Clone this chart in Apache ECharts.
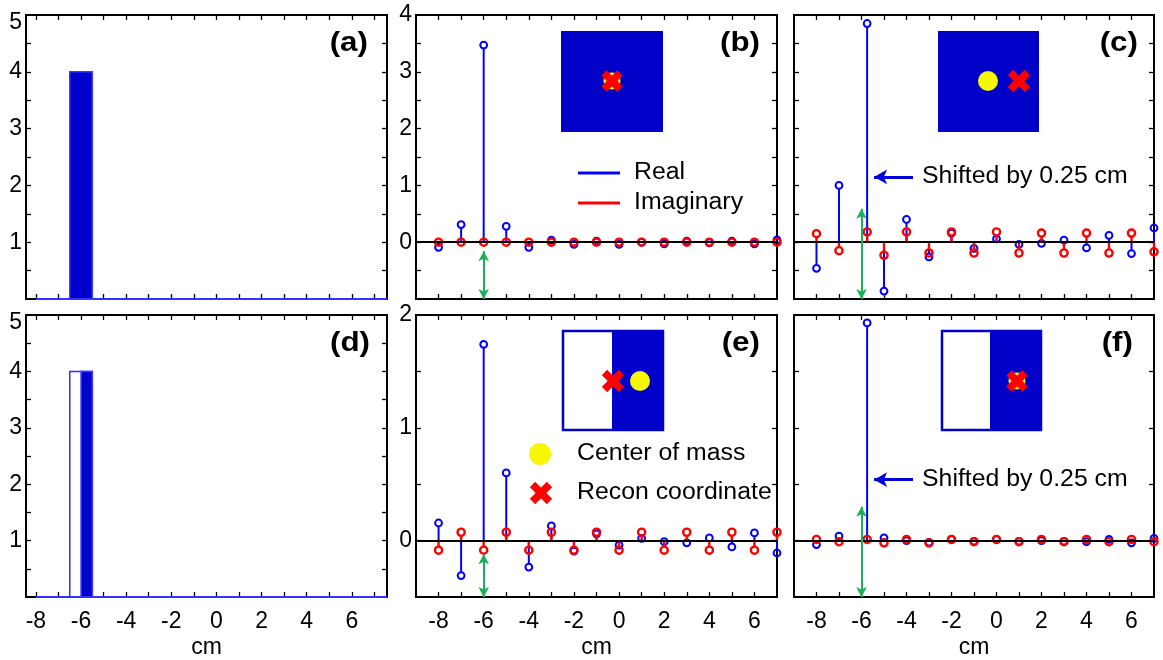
<!DOCTYPE html>
<html>
<head>
<meta charset="utf-8">
<script src="https://cdn.jsdelivr.net/npm/echarts@6/dist/echarts.min.js"></script>
<style>
  html, body { margin: 0; padding: 0; background: #fff; }
  #chart { width: 1163px; height: 660px; }
</style>
</head>
<body>
<div id="chart"></div>
<script>
// ---- data ----
// sample positions (cm)
const samplePos = [-8, -7, -6, -5, -4, -3, -2, -1, 0, 1, 2, 3, 4, 5, 6, 7];
// positions with the -6 sample shifted by 0.25 cm
const samplePosShifted = [-8, -7, -5.75, -5, -4, -3, -2, -1, 0, 1, 2, 3, 4, 5, 6, 7];

// (a) object profile: [start, end, height]
const objectA = [[-6.5, -5.5, 4]];
// (d) object profile: outline and filled part
const objectDOutline = [[-6.5, -5.5, 4]];
const objectDFilled = [[-6, -5.5, 4]];

// (b) centred object
const realB = [-0.09, 0.31, 3.47, 0.28, -0.09, 0.035, -0.04, 0.02, -0.04, 0.0, -0.03, 0.02, -0.01, 0.02, -0.03, 0.04];
const imagB = [0, 0, 0, 0, 0, 0, 0, 0, 0, 0, 0, 0, 0, 0, 0, 0];
// (c) shifted sampling
const realC = [-0.46, 1.0, 3.85, -0.86, 0.40, -0.26, 0.16, -0.11, 0.06, -0.04, -0.02, 0.035, -0.10, 0.12, -0.20, 0.25];
const imagC = [0.15, -0.15, 0.18, -0.23, 0.18, -0.19, 0.18, -0.19, 0.18, -0.19, 0.16, -0.19, 0.16, -0.19, 0.16, -0.17];
// (e) half-filled object
const realE = [0.156, -0.31, 1.74, 0.60, -0.235, 0.13, -0.094, 0.06, -0.04, 0.02, -0.01, -0.02, 0.024, -0.056, 0.068, -0.11];
const imagE = [-0.085, 0.074, -0.085, 0.074, -0.085, 0.074, -0.085, 0.074, -0.085, 0.074, -0.085, 0.074, -0.085, 0.074, -0.085, 0.074];
// (f) half-filled object, shifted sampling
const realF = [-0.035, 0.04, 1.93, 0.024, 0.0, -0.015, 0.01, -0.006, 0.01, -0.006, 0.0, -0.006, -0.01, 0.01, -0.02, 0.02];
const imagF = [0.01, -0.01, 0.01, -0.02, 0.01, -0.02, 0.01, -0.01, 0.01, -0.01, 0.01, -0.01, 0.01, -0.01, 0.01, -0.01];

// green double arrows at x = -6: [x, yTop, yBottom]
const arrowB = [-6, -0.16, -1];
const arrowC = [-6, 0.59, -1];
const arrowE = [-6, -0.12, -0.5];
const arrowF = [-6, 0.30, -0.5];
// "Shifted by" pointer: [xTip, xTail, y]
const pointerC = [-5.44, -3.71, 1.15];
const pointerF = [-5.44, -3.71, 0.54];

// tick values
const xTickVals = [-8, -7, -6, -5, -4, -3, -2, -1, 0, 1, 2, 3, 4, 5, 6];
const xTickValsBar = [-8, -7, -6, -5, -4, -3, -2, -1, 0, 1, 2, 3, 4, 5, 6, 7];
const xLabelVals = [-8, -6, -4, -2, 0, 2, 4, 6];
const yTicksBar = [0.5, 1, 1.5, 2, 2.5, 3, 3.5, 4, 4.5];
const yLabelsBar = [1, 2, 3, 4, 5];
const yTicksTop = [-0.5, 0, 0.5, 1, 1.5, 2, 2.5, 3, 3.5];
const yLabelsTop = [0, 1, 2, 3, 4];
const yTicksBottom = [0, 0.5, 1, 1.5];
const yLabelsBottom = [0, 1, 2];

// ---- styling ----
const FONT = "'Liberation Sans', Arial, Helvetica, sans-serif";
const BLUE = '#0000FF';
const DARKBLUE = '#0000C8';
const RED = '#FF0000';
const GREEN = '#1BAF57';
const YELLOW = '#F8F800';

const grids = [
  { left: 26, top: 15, width: 361, height: 284 },
  { left: 416, top: 15, width: 361, height: 284 },
  { left: 794, top: 15, width: 360, height: 284 },
  { left: 26, top: 315, width: 361, height: 283 },
  { left: 416, top: 315, width: 361, height: 283 },
  { left: 794, top: 315, width: 360, height: 283 }
].map(g => Object.assign({ show: true, borderColor: '#000', borderWidth: 2, backgroundColor: '#fff' }, g));

const tickStyle = { color: '#000', width: 1.3 };
const labelStyle = { fontSize: 23, color: '#000', fontFamily: FONT };

function xAxesFor(gi, min, max, ticks, showLabels) {
  const base = {
    type: 'value', gridIndex: gi, min: min, max: max,
    axisLine: { show: false, onZero: false }, splitLine: { show: false }
  };
  return [
    Object.assign({}, base, {
      position: 'bottom',
      axisTick: { show: true, inside: true, length: 5, customValues: ticks, lineStyle: tickStyle },
      axisLabel: Object.assign({ show: showLabels, customValues: xLabelVals, margin: 13 }, labelStyle),
      name: showLabels ? 'cm' : '',
      nameLocation: 'middle', nameGap: 39,
      nameTextStyle: labelStyle
    }),
    Object.assign({}, base, {
      position: 'top',
      axisTick: { show: true, inside: true, length: 5, customValues: ticks, lineStyle: tickStyle },
      axisLabel: { show: false }
    })
  ];
}

function yAxesFor(gi, min, max, ticks, labels, showLabels, raiseTop) {
  const base = {
    type: 'value', gridIndex: gi, min: min, max: max,
    axisLine: { show: false, onZero: false }, splitLine: { show: false }
  };
  return [
    Object.assign({}, base, {
      position: 'left',
      axisTick: { show: true, inside: true, length: 5, customValues: ticks, lineStyle: tickStyle },
      axisLabel: Object.assign({
        show: showLabels, customValues: labels, margin: 4,
        formatter: v => (raiseTop && v === max) ? '{t|' + v + '}' : String(v),
        rich: { t: { fontSize: 23, fontFamily: FONT, color: '#000', padding: [15, 0, 0, 0] } }
      }, labelStyle)
    }),
    Object.assign({}, base, {
      position: 'right',
      axisTick: { show: true, inside: true, length: 5, customValues: ticks, lineStyle: tickStyle },
      axisLabel: { show: false }
    })
  ];
}

const xAxis = [].concat(
  xAxesFor(0, -8.44, 7.56, xTickValsBar, false),
  xAxesFor(1, -9, 7, xTickVals, false),
  xAxesFor(2, -9, 7, xTickVals, false),
  xAxesFor(3, -8.44, 7.56, xTickValsBar, true),
  xAxesFor(4, -9, 7, xTickVals, true),
  xAxesFor(5, -9, 7, xTickVals, true)
);
const yAxis = [].concat(
  yAxesFor(0, 0, 5, yTicksBar, yLabelsBar, true, true),
  yAxesFor(1, -1, 4, yTicksTop, yLabelsTop, true, false),
  yAxesFor(2, -1, 4, yTicksTop, yLabelsTop, false, false),
  yAxesFor(3, 0, 5, yTicksBar, yLabelsBar, true, true),
  yAxesFor(4, -0.5, 2, yTicksBottom, yLabelsBottom, true, false),
  yAxesFor(5, -0.5, 2, yTicksBottom, yLabelsBottom, false, false)
);

// rectangular object profile drawn in data coordinates
function profileSeries(gi, data, fill, stroke) {
  return {
    type: 'custom', xAxisIndex: 2 * gi, yAxisIndex: 2 * gi, z: 3,
    data: data,
    renderItem: function (params, api) {
      const p0 = api.coord([api.value(0), api.value(2)]);
      const p1 = api.coord([api.value(1), 0]);
      return {
        type: 'rect',
        shape: { x: p0[0], y: p0[1], width: p1[0] - p0[0], height: p1[1] - p0[1] },
        style: { fill: fill, stroke: stroke, lineWidth: 1.5 }
      };
    }
  };
}

// stem plot: vertical line from zero with an open circle at the value
function stemSeries(gi, xs, ys, color, r, lw, z) {
  return {
    type: 'custom', xAxisIndex: 2 * gi, yAxisIndex: 2 * gi, z: z,
    data: xs.map((x, i) => [x, ys[i]]),
    renderItem: function (params, api) {
      const x = api.value(0), y = api.value(1);
      const p0 = api.coord([x, 0]);
      const p1 = api.coord([x, y]);
      const dy = p1[1] - p0[1];
      const children = [];
      if (Math.abs(dy) > r) {
        const endY = p1[1] - Math.sign(dy) * r;
        children.push({
          type: 'line',
          shape: { x1: p0[0], y1: p0[1], x2: p1[0], y2: endY },
          style: { stroke: color, lineWidth: lw }
        });
      }
      children.push({
        type: 'circle',
        shape: { cx: p1[0], cy: p1[1], r: r },
        style: { fill: 'none', stroke: color, lineWidth: lw }
      });
      return { type: 'group', children: children };
    }
  };
}

// zero line, green double arrow and optional pointer
function guideSeries(gi, arrow, pointer, baselineColor, baselineFrom) {
  const items = [];
  if (baselineFrom === undefined) {
    items.push({ yAxis: 0, lineStyle: { color: baselineColor, width: 2, type: 'solid' } });
  } else {
    items.push([
      { coord: [baselineFrom, 0], lineStyle: { color: baselineColor, width: 2, type: 'solid' } },
      { coord: [7.56, 0] }
    ]);
  }
  if (arrow) {
    items.push([
      { coord: [arrow[0], arrow[1]], symbol: 'arrow', symbolSize: [8, 10], lineStyle: { color: GREEN, width: 2, type: 'solid' } },
      { coord: [arrow[0], arrow[2]], symbol: 'arrow', symbolSize: [8, 10] }
    ]);
  }
  if (pointer) {
    items.push([
      { coord: [pointer[0], pointer[2]], symbol: 'arrow', symbolSize: [11, 13], lineStyle: { color: '#0000DD', width: 3, type: 'solid' } },
      { coord: [pointer[1], pointer[2]], symbol: 'none' }
    ]);
  }
  return {
    type: 'line', xAxisIndex: 2 * gi, yAxisIndex: 2 * gi, data: [], z: 1,
    markLine: { silent: true, animation: false, symbol: ['none', 'none'], label: { show: false }, data: items }
  };
}

const series = [
  // (a)
  guideSeries(0, null, null, '#3333FF', -8),
  profileSeries(0, objectA, '#0000CC', '#3B3BFF'),
  // (b)
  guideSeries(1, arrowB, null, '#000'),
  stemSeries(1, samplePos, realB, BLUE, 3.4, 2, 2),
  stemSeries(1, samplePos, imagB, RED, 3.6, 2.4, 3),
  // (c)
  guideSeries(2, arrowC, pointerC, '#000'),
  stemSeries(2, samplePosShifted, realC, BLUE, 3.4, 2, 2),
  stemSeries(2, samplePosShifted, imagC, RED, 3.6, 2.4, 3),
  // (d)
  guideSeries(3, null, null, '#3333FF', -8),
  profileSeries(3, objectDOutline, '#fff', '#2E2EFF'),
  profileSeries(3, objectDFilled, '#0000CC', '#3B3BFF'),
  // (e)
  guideSeries(4, arrowE, null, '#000'),
  stemSeries(4, samplePos, realE, BLUE, 3.4, 2, 2),
  stemSeries(4, samplePos, imagE, RED, 3.6, 2.4, 3),
  // (f)
  guideSeries(5, arrowF, pointerF, '#000'),
  stemSeries(5, samplePosShifted, realF, BLUE, 3.4, 2, 2),
  stemSeries(5, samplePosShifted, imagF, RED, 3.6, 2.4, 3)
];

// ---- decorations: panel tags, inset schematics, legends, notes ----
function text(str, x, y, opts) {
  return {
    type: 'text', x: x, y: y, z: 30, scaleX: (opts && opts.scaleX) || 1.08,
    style: Object.assign({
      text: str, fill: '#000', align: 'left', verticalAlign: 'middle',
      font: '23px ' + FONT
    }, opts && opts.style)
  };
}
function tag(str, xRight, y) {
  return text(str, xRight, y, { scaleX: 1.12, style: { align: 'right', font: 'bold 28px ' + FONT } });
}
function cross(cx, cy, s) {
  const st = { stroke: RED, lineWidth: 7.5, lineCap: 'butt' };
  return [
    { type: 'line', z: 32, shape: { x1: cx - s, y1: cy - s, x2: cx + s, y2: cy + s }, style: st },
    { type: 'line', z: 32, shape: { x1: cx - s, y1: cy + s, x2: cx + s, y2: cy - s }, style: st }
  ];
}
function dot(cx, cy, r) {
  return { type: 'circle', z: 31, shape: { cx: cx, cy: cy, r: r }, style: { fill: YELLOW } };
}
function fullInset(x, y, w, h) {
  return [{ type: 'rect', z: 30, shape: { x: x, y: y, width: w, height: h }, style: { fill: DARKBLUE } }];
}
function halfInset(x, y, w, h, split) {
  return [
    { type: 'rect', z: 30, shape: { x: x, y: y, width: w, height: h }, style: { fill: '#fff', stroke: DARKBLUE, lineWidth: 2.5 } },
    { type: 'rect', z: 30, shape: { x: split, y: y, width: x + w - split, height: h }, style: { fill: DARKBLUE } }
  ];
}
function legendLine(x1, x2, y, color) {
  return { type: 'line', z: 30, shape: { x1: x1, y1: y, x2: x2, y2: y }, style: { stroke: color, lineWidth: 3 } };
}

const graphic = [].concat(
  tag('(a)', 368, 43), tag('(b)', 760, 43), tag('(c)', 1138, 43),
  tag('(d)', 370, 343), tag('(e)', 760, 343), tag('(f)', 1133, 343),

  fullInset(561, 31, 102, 101), dot(612, 81, 8.5), cross(612, 81, 8),
  fullInset(938, 31, 101, 101), dot(988, 81, 10), cross(1019, 81, 8.5),
  halfInset(563, 331, 100, 99, 612), cross(613, 381, 8.5), dot(640, 381, 10),
  halfInset(942, 331, 99, 99, 990), dot(1017, 381, 8.5), cross(1017, 381, 8),

  legendLine(578, 620, 173, BLUE), text('Real', 634, 173),
  legendLine(578, 620, 203, RED), text('Imaginary', 634, 203),

  dot(540, 454, 11), text('Center of mass', 577, 454),
  cross(541, 493, 8.5), text('Recon coordinate', 577, 493),

  text('Shifted by 0.25 cm', 922, 177),
  text('Shifted by 0.25 cm', 922, 480)
);

const chart = echarts.init(document.getElementById('chart'), null, { renderer: 'canvas' });
chart.setOption({
  animation: false,
  backgroundColor: '#fff',
  textStyle: { fontFamily: FONT },
  grid: grids,
  xAxis: xAxis,
  yAxis: yAxis,
  series: series,
  graphic: graphic
});
</script>
</body>
</html>
